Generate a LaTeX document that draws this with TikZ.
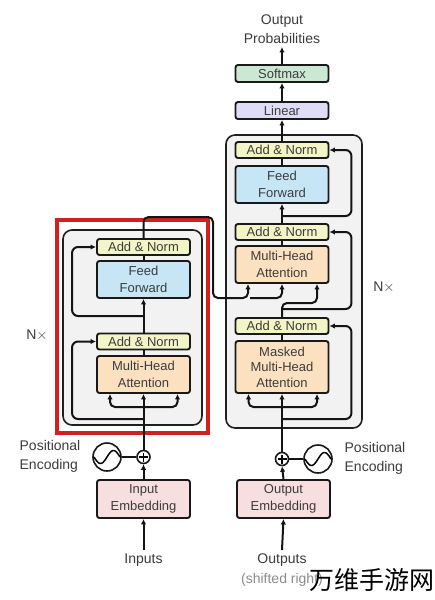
\documentclass[tikz,border=0pt]{standalone}
\usepackage{fontspec}
\setmainfont{Liberation Sans}
\newfontfamily\cjkfont{Noto Sans CJK SC}
\usetikzlibrary{arrows.meta}
\definecolor{txt}{HTML}{3C3C3C}
\definecolor{anfill}{HTML}{F3F5C6}
\definecolor{fffill}{HTML}{C6E6F5}
\definecolor{mhfill}{HTML}{FCE1C0}
\definecolor{linfill}{HTML}{DEDDF5}
\definecolor{smfill}{HTML}{CBE8D3}
\definecolor{embfill}{HTML}{F7DFDF}
\definecolor{grayfill}{HTML}{F2F2F2}
\definecolor{redline}{HTML}{D2201F}
\begin{document}
\begin{tikzpicture}[x=1pt,y=-1pt,
  lbl/.style={text=txt,font=\fontsize{13}{16.5}\selectfont},
  blk/.style={draw=black!90,line width=1.9pt,rounded corners=2.5pt,minimum width=93pt,inner sep=0pt,align=center,lbl},
  an/.style={blk,fill=anfill,minimum height=16pt},
  ff/.style={blk,fill=fffill,minimum height=37pt},
  mh/.style={blk,fill=mhfill,minimum height=37pt},
  conn/.style={line width=2pt,draw=black!92},
  arr/.style={conn,-{Latex[length=5.5pt,width=5.5pt]}},
  rc/.style={rounded corners=5pt},
  layer/.style={draw=black!88,line width=1.6pt,fill=grayfill,rounded corners=9pt}
]
\useasboundingbox (0,0) rectangle (434,600);
\fill[white] (0,0) rectangle (434,600);

% ---------- encoder frame ----------
\draw[redline,line width=4pt] (57,220) rectangle (208,433);
\draw[layer] (63,230) rectangle (202,425);

% ---------- decoder frame ----------
\draw[layer] (226,135) rectangle (362,428);

% ---------- encoder blocks ----------
\node[an] (eAN2) at (143.5,247) {Add \& Norm};
\node[ff] (eFF) at (143.5,279.5) {Feed\\Forward};
\node[an] (eAN1) at (143.5,341.5) {Add \& Norm};
\node[mh] (eMHA) at (143.5,374.5) {Multi-Head\\Attention};
\node[blk,fill=embfill,minimum height=38pt] (eEmb) at (143.5,499) {Input\\Embedding};
\node[circle,draw=black!90,line width=1.6pt,minimum size=13pt,inner sep=0pt] (ep) at (143.5,457) {};
\draw[line width=1.3pt] ([yshift=-4.5pt]ep.center) -- ([yshift=4.5pt]ep.center) ([xshift=-4.5pt]ep.center) -- ([xshift=4.5pt]ep.center);
\node[circle,draw=black!90,line width=1.6pt,minimum size=28pt,inner sep=0pt] (es) at (107,457) {};
\draw[line width=1.5pt,shift={(es.center)}] plot[domain=-13:13,samples=40,smooth] (\x,{-6.5*sin(\x*360/26)});
\node[lbl,align=left,font=\fontsize{14}{19}\selectfont] (epos) at (50,456) {Positional\\Encoding};
\node[lbl,font=\fontsize{14}{17}\selectfont] (inp) at (143.5,560) {Inputs};
\node[lbl,font=\fontsize{14}{17}\selectfont] (nxl) at (37,335) {N$\times$};

% ---------- decoder blocks ----------
\node[an] (dAN3) at (282,150) {Add \& Norm};
\node[ff] (dFF) at (282,184.5) {Feed\\Forward};
\node[an] (dAN2) at (282,232) {Add \& Norm};
\node[mh] (dMHA) at (282,264.5) {Multi-Head\\Attention};
\node[an] (dAN1) at (282,326) {Add \& Norm};
\node[blk,fill=mhfill,minimum height=52pt,font=\fontsize{13}{15.5}\selectfont] (dMMHA) at (282,367) {Masked\\Multi-Head\\Attention};
\node[blk,fill=linfill,minimum height=17pt] (dLin) at (282,110.5) {Linear};
\node[blk,fill=smfill,minimum height=17pt] (dSoft) at (282,73.5) {Softmax};
\node[lbl,align=center,font=\fontsize{14}{19}\selectfont] (outp) at (282,29) {Output\\Probabilities};
\node[blk,fill=embfill,minimum height=38pt] (dEmb) at (283.5,499) {Output\\Embedding};
\node[circle,draw=black!90,line width=1.6pt,minimum size=13pt,inner sep=0pt] (dp) at (282,459) {};
\draw[line width=1.3pt] ([yshift=-4.5pt]dp.center) -- ([yshift=4.5pt]dp.center) ([xshift=-4.5pt]dp.center) -- ([xshift=4.5pt]dp.center);
\node[circle,draw=black!90,line width=1.6pt,minimum size=28pt,inner sep=0pt] (ds) at (318,459) {};
\draw[line width=1.5pt,shift={(ds.center)}] plot[domain=-13:13,samples=40,smooth] (\x,{-6.5*sin(\x*360/26)});
\node[lbl,align=left,font=\fontsize{14}{19}\selectfont] (dpos) at (375,458) {Positional\\Encoding};
\node[lbl,font=\fontsize{14}{17}\selectfont] (outs) at (282,560) {Outputs};
\node[text=black!45,font=\fontsize{14}{17}\selectfont] (shr) at (282,580) {(shifted right)};
\node[lbl,font=\fontsize{14}{17}\selectfont] (nxr) at (384,287) {N$\times$};

% ---------- encoder connectors ----------
\coordinate (eBr) at (143.5,407);
\coordinate (eR1) at (143.5,419);
\coordinate (eR2) at (143.5,316);
\coordinate (eTop) at (213,217);
\draw[arr] (inp.north) -- (eEmb.south);
\draw[arr] (eEmb.north) -- (ep.south);
\draw[conn] (es.east) -- (ep.west);
\draw[arr] (ep.north) -- (eMHA.south);
\draw[arr,rc] (eBr) -| ([xshift=-33.5pt]eMHA.south);
\draw[arr,rc] (eBr) -| ([xshift=34pt]eMHA.south);
\draw[arr,rounded corners=6pt] (eR1) -| ([xshift=-24pt]eAN1.west) -- (eAN1.west);
\draw[conn] (eMHA.north) -- (eAN1.south);
\draw[arr] (eAN1.north) -- (eFF.south);
\draw[arr,rounded corners=6pt] (eR2) -| ([xshift=-24pt]eAN2.west) -- (eAN2.west);
\draw[conn] (eFF.north) -- (eAN2.south);
\draw[arr,rc] (eAN2.north) |- (eTop) -- (213,298) -| ([xshift=-34pt]dMHA.south);
\draw[arr,rc] (250,298) -| (dMHA.south);

% ---------- decoder connectors ----------
\coordinate (dBr) at (282,407);
\coordinate (dR1) at (282,419);
\coordinate (dR2) at (282,309);
\coordinate (dR3) at (282,216);
\draw[arr] (outs.north) -- (dEmb.south);
\draw[arr] (dEmb.north) -- (dp.south);
\draw[conn] (ds.west) -- (dp.east);
\draw[arr] (dp.north) -- (dMMHA.south);
\draw[arr,rc] (dBr) -| ([xshift=-33.5pt]dMMHA.south);
\draw[arr,rc] (dBr) -| ([xshift=35pt]dMMHA.south);
\draw[arr,rounded corners=6pt] (dR1) -| ([xshift=22pt]dAN1.east) -- (dAN1.east);
\draw[conn] (dMMHA.north) -- (dAN1.south);
\draw[arr,rc] (dAN1.north) -- (282,303) -| ([xshift=35pt]dMHA.south);
\draw[arr,rounded corners=6pt] (dR2) -| ([xshift=22pt]dAN2.east) -- (dAN2.east);
\draw[conn] (dMHA.north) -- (dAN2.south);
\draw[arr] (dAN2.north) -- (dFF.south);
\draw[arr,rounded corners=6pt] (dR3) -| ([xshift=22pt]dAN3.east) -- (dAN3.east);
\draw[conn] (dFF.north) -- (dAN3.south);
\draw[arr] (dAN3.north) -- (dLin.south);
\draw[arr] (dLin.north) -- (dSoft.south);
\draw[arr] (dSoft.north) -- (outp.south);

% ---------- watermark ----------
\node[font=\cjkfont\fontsize{25}{28}\selectfont,text=black] (wm) at (372,580) {万维手游网};
\end{tikzpicture}
\end{document}
